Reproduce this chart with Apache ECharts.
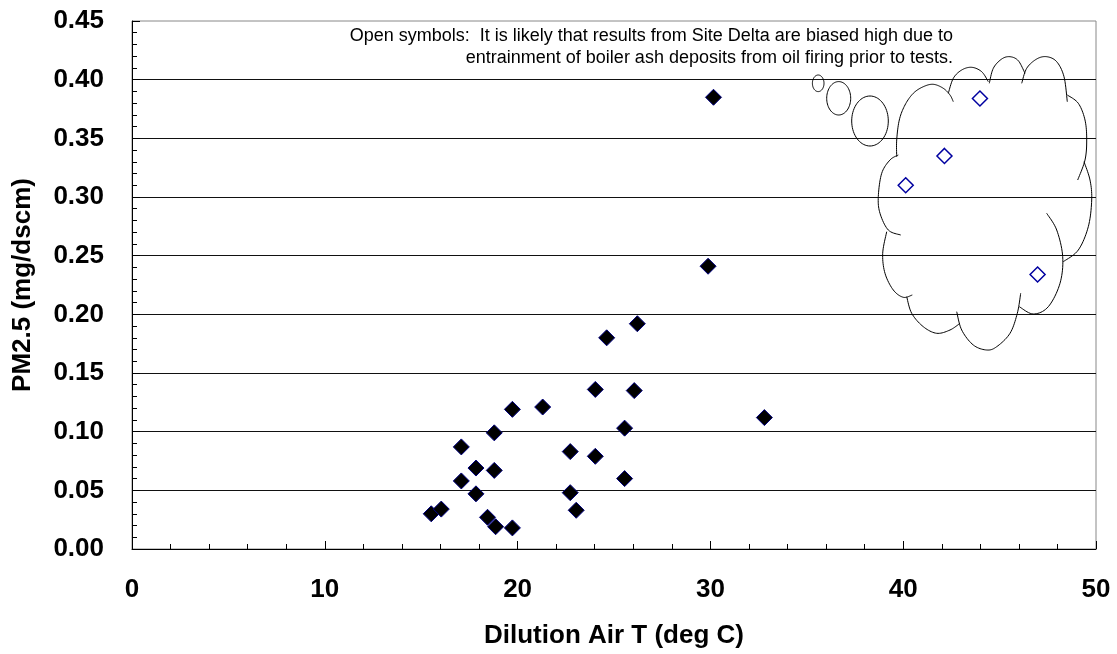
<!DOCTYPE html>
<html><head><meta charset="utf-8">
<script src="https://cdn.jsdelivr.net/npm/echarts@6/dist/echarts.min.js"></script>
<style>html,body{margin:0;padding:0;background:#fff}#c{width:1117px;height:654px}</style>
</head><body><div id="c"></div>
<script>
// ---- data ----
const xTickLabels = [0, 10, 20, 30, 40, 50];
const yTickLabels = [0.00, 0.05, 0.10, 0.15, 0.20, 0.25, 0.30, 0.35, 0.40, 0.45];
const filledT  = [15.52, 16.04, 17.08, 17.08, 17.84, 17.84, 18.79, 18.79, 18.44, 18.86, 19.73, 19.73, 21.30, 22.73, 22.73, 23.04, 24.03, 24.03, 24.62, 25.55, 25.55, 26.05, 26.21, 29.88, 30.16, 32.80];
const filledPM = [0.030, 0.034, 0.087, 0.058, 0.069, 0.047, 0.099, 0.067, 0.027, 0.019, 0.119, 0.018, 0.121, 0.083, 0.048, 0.033, 0.136, 0.079, 0.180, 0.103, 0.060, 0.135, 0.192, 0.241, 0.385, 0.112];
const openT  = [40.13, 42.14, 43.98, 46.97];
const openPM = [0.310, 0.335, 0.384, 0.234];
const xTitle = 'Dilution Air T (deg C)';
const yTitle = 'PM2.5 (mg/dscm)';
const noteLines = [
  'Open symbols:  It is likely that results from Site Delta are biased high due to',
  'entrainment of boiler ash deposits from oil firing prior to tests.'
];

// ---- decoration geometry (thought cloud callout, pixels) ----
const cloudLobes = [
  [[896.7,156.7],[896.7,140],[899.3,120],[905,105],[913.3,93.3],[923.3,86.7],[933.3,84.3],[943.3,88.3],[950,95],[953.3,101.7]],
  [[948.3,93.3],[953.3,78.3],[961.7,70],[971.7,67.3],[981.7,71.7],[988.3,81.7]],
  [[989.3,83.3],[993.3,68.3],[1001.7,59],[1010,56.7],[1018.3,60.7],[1025,73.3]],
  [[1021.7,83.3],[1026.7,68.3],[1036.7,59],[1046.7,56.7],[1056.7,61.7],[1064,76.7],[1067.3,101.7]],
  [[1067.3,95],[1078.3,103.3],[1085,120],[1086.7,140],[1085,160],[1077.7,180]],
  [[1084,161.7],[1090,180],[1091.7,200],[1088.3,226.7],[1078.3,250],[1063.3,261.7]],
  [[1046.7,213.3],[1056.7,230],[1062.7,256.7],[1060,283.3],[1048.3,306.7],[1033.3,314],[1019.3,306.7]],
  [[1020.7,293.3],[1017.3,313.3],[1010,333.3],[996.7,346.7],[986.7,350],[973.3,345],[961.7,330],[956.7,311.7]],
  [[960,323.3],[950,330],[936.7,333.3],[923.3,326.7],[911.7,313.3],[906.7,296.7]],
  [[886.7,231.7],[882.7,253.3],[885,273.3],[893.3,290],[903.3,297.3],[912.3,295]],
  [[900.7,235],[888.3,230],[880,213.3],[878.3,196.7],[881.7,173.3],[890,160],[898.3,155]]
];
const thoughtBubbles = [[818.2,83.3,5.8,8.3],[838.7,98.3,12,16.7],[870,121,18.3,25]];

function catmull(pts, steps) {
  const out = [];
  const n = pts.length;
  for (let i = 0; i < n - 1; i++) {
    const p0 = pts[Math.max(i - 1, 0)], p1 = pts[i], p2 = pts[i + 1], p3 = pts[Math.min(i + 2, n - 1)];
    for (let s = 0; s < steps; s++) {
      const t = s / steps, t2 = t * t, t3 = t2 * t;
      const f = (a, b, c, d) => 0.5 * ((2 * b) + (-a + c) * t + (2 * a - 5 * b + 4 * c - d) * t2 + (-a + 3 * b - 3 * c + d) * t3);
      out.push([f(p0[0], p1[0], p2[0], p3[0]), f(p0[1], p1[1], p2[1], p3[1])]);
    }
  }
  out.push(pts[n - 1]);
  return out;
}
function ellipsePts(cx, cy, rx, ry) {
  const out = [];
  for (let i = 0; i <= 72; i++) {
    const a = i / 72 * Math.PI * 2;
    out.push([cx + rx * Math.cos(a), cy + ry * Math.sin(a)]);
  }
  return out;
}
const graphics = [];
cloudLobes.forEach(l => graphics.push({type:'polyline', silent:true, z:50, shape:{points:catmull(l, 10)}, style:{stroke:'#000', lineWidth:1, fill:null}}));
thoughtBubbles.forEach(b => graphics.push({type:'polyline', silent:true, z:50, shape:{points:ellipsePts(b[0],b[1],b[2],b[3])}, style:{stroke:'#000', lineWidth:1, fill:null}}));
const noteY = [36, 58];
noteLines.forEach((t, i) => graphics.push({type:'text', silent:true, z:60, x:953, y:noteY[i],
  style:{text:t, font:'18px "Liberation Sans", Arial, sans-serif', fill:'#000', align:'right', verticalAlign:'middle', textAlign:'right', textVerticalAlign:'middle'}}));

const chart = echarts.init(document.getElementById('c'), null, {renderer:'canvas'});
const FONT = '"Liberation Sans", Arial, sans-serif';
chart.setOption({
  animation:false,
  backgroundColor:'#fff',
  grid:{left:132, right:21, top:21, bottom:104.5, show:true, borderColor:'#888', borderWidth:1, containLabel:false},
  xAxis:{
    type:'value', min:xTickLabels[0], max:xTickLabels[xTickLabels.length-1], interval:10,
    name:xTitle, nameLocation:'middle', nameGap:74,
    nameTextStyle:{fontFamily:FONT, fontWeight:'bold', fontSize:26, color:'#000'},
    axisLine:{show:true, onZero:false, lineStyle:{color:'#000', width:1}},
    axisTick:{show:true, inside:true, length:8, lineStyle:{color:'#000'}},
    minorTick:{show:true, splitNumber:5, length:5, lineStyle:{color:'#000'}},
    axisLabel:{fontFamily:FONT, fontWeight:'bold', fontSize:26, color:'#000', margin:28, formatter:v=>String(v)},
    splitLine:{show:false}
  },
  yAxis:{
    type:'value', min:yTickLabels[0], max:yTickLabels[yTickLabels.length-1], interval:0.05,
    name:yTitle, nameLocation:'middle', nameGap:96, nameRotate:90,
    nameTextStyle:{fontFamily:FONT, fontWeight:'bold', fontSize:26, color:'#000'},
    axisLine:{show:true, onZero:false, lineStyle:{color:'#000', width:1}},
    axisTick:{show:true, inside:true, length:8, lineStyle:{color:'#000'}},
    minorTick:{show:true, splitNumber:5, length:5, lineStyle:{color:'#000'}},
    axisLabel:{fontFamily:FONT, fontWeight:'bold', fontSize:26, color:'#000', margin:28, formatter:v=>v.toFixed(2)},
    splitLine:{show:true, showMinLine:false, showMaxLine:false, lineStyle:{color:'#111', width:1}}
  },
  series:[
    {type:'scatter', data:filledT.map((t,i)=>[t, filledPM[i]]), symbol:'diamond', symbolSize:16,
     itemStyle:{color:'#000', borderColor:'#000080', borderWidth:1, opacity:1}, emphasis:{disabled:true}, z:10},
    {type:'scatter', data:openT.map((t,i)=>[t, openPM[i]]), symbol:'diamond', symbolSize:15,
     itemStyle:{color:'#fff', borderColor:'#0000a0', borderWidth:1.5, opacity:1}, emphasis:{disabled:true}, z:10}
  ],
  graphic:graphics
});
</script></body></html>
